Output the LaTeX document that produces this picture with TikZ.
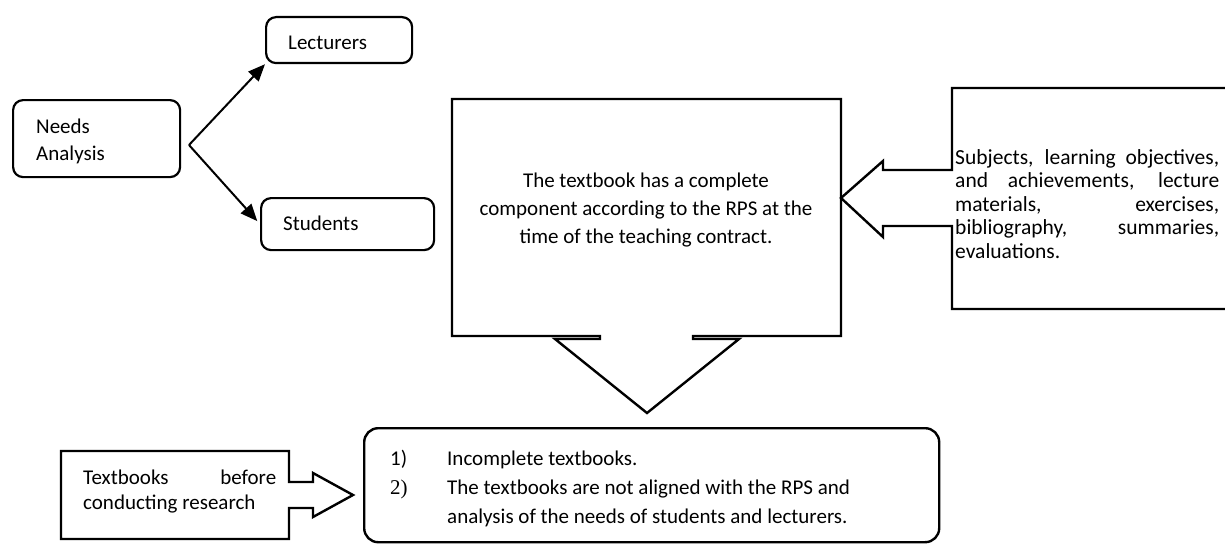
\documentclass[tikz,border=0pt]{standalone}
\usepackage{fontspec}
\setmainfont{Carlito}
\newfontfamily\numserif{Liberation Serif}
\usetikzlibrary{arrows.meta}
\tikzset{
  rbox/.style={draw, line width=2.2pt, rounded corners=10pt, inner sep=0pt, anchor=north west},
  shapeline/.style={draw, line width=2.4pt, line join=miter, fill=white},
  txt/.style={font=\fontsize{21}{25}\selectfont, inner sep=0pt, anchor=base west},
  rtxt/.style={font=\fontsize{21.5}{25}\selectfont, inner sep=0pt, anchor=base west},
  ctxt/.style={font=\fontsize{21}{25}\selectfont, inner sep=0pt, anchor=base},
  arr/.style={line width=2pt, -{Triangle[length=17pt,width=14pt]}},
}
\begin{document}
\begin{tikzpicture}[x=1pt,y=-1pt]
\useasboundingbox (0,0) rectangle (1225,543);

% Needs analysis branch
\node[rbox, minimum width=167pt, minimum height=77pt] (needs) at (12,99) {};
\node[txt] (needs1) at (36,133) {Needs};
\node[txt] (needs2) at (36,160) {Analysis};
\node[rbox, minimum width=146pt, minimum height=46pt] (lect) at (265,16) {};
\node[txt] (lecttxt) at (288,50) {Lecturers};
\node[rbox, minimum width=173pt, minimum height=52pt] (stud) at (260,197) {};
\node[txt] (studtxt) at (283,230) {Students};
\coordinate (fork) at (189,145);
\draw[arr] (fork) -- (lect.south west);
\draw[arr, shorten >=4pt] (fork) -- (stud.west);

% Central box with down-arrow callout
\draw[shapeline] (452,99) -- (841,99) -- (841,336) -- (693,336) -- (693,339) -- (739,339)
  -- (647,413) -- (555,339) -- (600,339) -- (600,336) -- (452,336) -- cycle;
\coordinate (downtip) at (647,413);
\node[ctxt] (c1) at (646,187) {The textbook has a complete};
\node[ctxt] (c2) at (646,215) {component according to the RPS at the};
\node[ctxt] (c3) at (646,243) {time of the teaching contract.};

% Right box with left-arrow callout
\draw[shapeline, fill=none] (1232,88) -- (952,88) -- (952,170) -- (883,170) -- (883,161) -- (841,198)
  -- (883,237) -- (883,226) -- (952,226) -- (952,309) -- (1232,309);
\node[rtxt] (s1) at (955,164) {\makebox[264pt][s]{Subjects, learning objectives,}};
\node[rtxt] (s2) at (955,187.5) {\makebox[264pt][s]{and achievements, lecture}};
\node[rtxt] (s3) at (955,211) {\makebox[264pt][s]{materials, exercises,}};
\node[rtxt] (s4) at (955,234.5) {\makebox[264pt][s]{bibliography, summaries,}};
\node[rtxt] (s5) at (955,258) {evaluations.};

% Textbooks before research with right-arrow callout
\draw[shapeline] (61,451) -- (289,451) -- (289,482) -- (313,482) -- (313,473) -- (353,495)
  -- (313,517) -- (313,508) -- (289,508) -- (289,539) -- (61,539) -- cycle;
\node[txt] (t1) at (83,484) {\makebox[193pt][s]{Textbooks before}};
\node[txt] (t2) at (83,509) {conducting research};

% Findings box
\node[rbox, rounded corners=14pt, line width=2.4pt, minimum width=575pt, minimum height=114pt] (find) at (363,427) {};
\node[txt] (n1) at (390,465) {1)};
\node[txt] (f1) at (447,465) {Incomplete textbooks.};
\node[txt] (n2) at (390,494) {\numserif 2)};
\node[txt] (f2) at (447,494) {The textbooks are not aligned with the RPS and};
\node[txt] (f3) at (447,523) {analysis of the needs of students and lecturers.};
\end{tikzpicture}
\end{document}
